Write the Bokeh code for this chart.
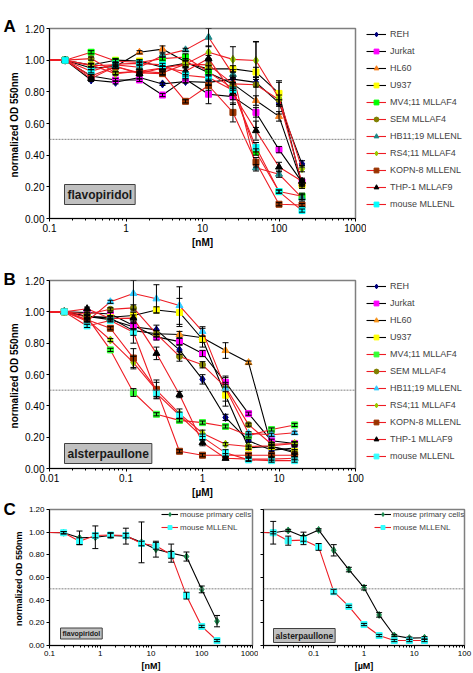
from bokeh.plotting import figure
from bokeh.layouts import column, row
from bokeh.models import (ColumnDataSource, Whisker, Span, Label, Legend, LegendItem,
                          FixedTicker, TeeHead, Range1d, NumeralTickFormatter)
from bokeh.embed import file_html
from bokeh.resources import INLINE

FONT = "Liberation Sans"

# ---------------- data ----------------
names = ["REH", "Jurkat", "HL60", "U937", "MV4;11 MLLAF4", "SEM MLLAF4",
         "HB11;19 MLLENL", "RS4;11 MLLAF4", "KOPN-8 MLLENL", "THP-1 MLLAF9", "mouse MLLENL"]

# Panel A: flavopiridol [nM] (first value = untreated control, left of axis)
a_dose = [0.05, 0.16, 0.35, 0.73, 1.5, 3, 6, 12, 25, 50, 100, 200]
a_reh = [1.00, 1.00, 0.875, 0.86, 0.89, 0.85, 0.865, 0.86, 0.88, 0.86, 0.73, 0.345]
a_jurkat = [1.00, 1.00, 0.90, 0.875, 0.875, 0.78, 0.88, 0.785, 0.77, 0.67, 0.435, 0.23]
a_hl60 = [1.00, 1.00, 0.95, 0.96, 1.05, 1.07, 0.99, 0.92, 0.85, 0.745, 0.645, 0.22]
a_u937 = [1.00, 1.00, 0.97, 1.00, 0.995, 0.955, 0.98, 0.945, 0.945, 0.925, 0.79, 0.21]
a_mv411 = [1.00, 1.00, 1.05, 0.995, 0.985, 1.01, 1.02, 0.925, 0.82, 0.42, 0.17, 0.14]
a_sem = [1.00, 1.00, 1.01, 0.92, 0.93, 0.92, 0.975, 0.97, 0.85, 0.845, 0.75, 0.225]
a_hb1119 = [1.00, 1.00, 0.965, 0.97, 0.955, 1.03, 1.065, 1.145, 0.91, 0.32, 0.28, 0.13]
a_rs411 = [1.00, 1.00, 0.97, 0.915, 0.93, 0.95, 0.975, 1.05, 1.005, 0.998, 0.76, 0.315]
a_kopn8 = [1.00, 1.00, 0.90, 0.96, 0.92, 0.915, 0.74, 0.84, 0.67, 0.355, 0.09, 0.085]
a_thp1 = [1.00, 1.00, 0.885, 0.96, 0.915, 0.95, 0.93, 1.01, 0.79, 0.555, 0.325, 0.235]
a_mouse = [1.00, 1.00, 0.93, 0.975, 0.98, 0.97, 0.905, 0.89, 0.81, 0.45, 0.17, 0.05]

a_reh_err = [0, 0, 0.01, 0.01, 0.01, 0.01, 0.01, 0.02, 0.02, 0.03, 0.02, 0.02]
a_jurkat_err = [0, 0, 0.01, 0.01, 0.01, 0.01, 0.02, 0.06, 0.02, 0.03, 0.02, 0.02]
a_hl60_err = [0, 0, 0.01, 0.01, 0.01, 0.02, 0.02, 0.02, 0.03, 0.03, 0.03, 0.02]
a_u937_err = [0, 0, 0.01, 0.01, 0.01, 0.01, 0.02, 0.02, 0.02, 0.03, 0.08, 0.02]
a_mv411_err = [0, 0, 0.01, 0.01, 0.01, 0.01, 0.02, 0.02, 0.03, 0.02, 0.01, 0.02]
a_sem_err = [0, 0, 0.01, 0.01, 0.01, 0.01, 0.02, 0.03, 0.04, 0.27, 0.03, 0.02]
a_hb1119_err = [0, 0, 0.01, 0.01, 0.01, 0.01, 0.01, 0.06, 0.03, 0.02, 0.02, 0.02]
a_rs411_err = [0, 0, 0.01, 0.01, 0.01, 0.01, 0.02, 0.04, 0.08, 0.12, 0.10, 0.02]
a_kopn8_err = [0, 0, 0.01, 0.01, 0.01, 0.01, 0.01, 0.03, 0.06, 0.03, 0.01, 0.01]
a_thp1_err = [0, 0, 0.01, 0.01, 0.01, 0.01, 0.02, 0.02, 0.07, 0.06, 0.03, 0.02]
a_mouse_err = [0, 0, 0.01, 0.01, 0.01, 0.01, 0.02, 0.02, 0.02, 0.03, 0.01, 0.01]

# Panel B: alsterpaullone [uM]
b_dose = [0.005, 0.0156, 0.031, 0.0625, 0.125, 0.25, 0.5, 1, 2, 4, 8, 16]
b_reh = [1, 1, 0.97, 0.95, 0.905, 0.885, 0.757, 0.569, 0.326, 0.177, 0.117, 0.13]
b_jurkat = [1, 1, 0.996, 0.986, 0.913, 0.84, 0.81, 0.734, 0.55, 0.35, 0.177, 0.16]
b_hl60 = [1, 1, 0.97, 0.96, 0.88, 0.86, 0.855, 0.835, 0.753, 0.676, 0.14, 0.10]
b_u937 = [1, 1, 0.97, 0.965, 0.977, 1.012, 0.996, 0.825, 0.468, 0.132, 0.14, 0.11]
b_mv411 = [1, 1, 0.965, 0.757, 0.485, 0.346, 0.307, 0.293, 0.268, 0.21, 0.249, 0.278]
b_sem = [1, 1, 0.985, 1.016, 1.025, 0.86, 0.715, 0.662, 0.52, 0.28, 0.155, 0.16]
b_hb1119 = [1, 1, 0.94, 1.064, 1.117, 1.083, 1.04, 0.875, 0.51, 0.225, 0.215, 0.228]
b_rs411 = [1, 1, 0.95, 0.82, 0.676, 0.50, 0.35, 0.225, 0.155, 0.14, 0.145, 0.16]
b_kopn8 = [1, 1, 0.95, 0.895, 0.705, 0.505, 0.11, 0.085, 0.085, 0.085, 0.085, 0.085]
b_thp1 = [1, 1, 1.02, 0.957, 0.96, 0.735, 0.472, 0.165, 0.065, 0.06, 0.06, 0.065]
b_mouse = [1, 1, 0.91, 0.945, 0.87, 0.48, 0.34, 0.20, 0.10, 0.055, 0.05, 0.05]

b_reh_err = [0, 0, 0.01, 0.01, 0.02, 0.03, 0.03, 0.03, 0.02, 0.01, 0.01, 0.01]
b_jurkat_err = [0, 0, 0.01, 0.01, 0.02, 0.02, 0.02, 0.02, 0.03, 0.01, 0.01, 0.01]
b_hl60_err = [0, 0, 0.01, 0.01, 0.08, 0.02, 0.02, 0.06, 0.05, 0.01, 0.01, 0.01]
b_u937_err = [0, 0, 0.01, 0.01, 0.02, 0.02, 0.09, 0.02, 0.07, 0.01, 0.01, 0.01]
b_mv411_err = [0, 0, 0.01, 0.01, 0.025, 0.01, 0.01, 0.01, 0.01, 0.01, 0.01, 0.01]
b_sem_err = [0, 0, 0.01, 0.01, 0.02, 0.02, 0.03, 0.02, 0.03, 0.01, 0.01, 0.01]
b_hb1119_err = [0, 0, 0.01, 0.01, 0.10, 0.09, 0.12, 0.03, 0.08, 0.01, 0.01, 0.01]
b_rs411_err = [0, 0, 0.01, 0.01, 0.04, 0.05, 0.03, 0.02, 0.01, 0.01, 0.01, 0.01]
b_kopn8_err = [0, 0, 0.01, 0.01, 0.06, 0.06, 0.01, 0.01, 0.01, 0.01, 0.01, 0.01]
b_thp1_err = [0, 0, 0.01, 0.01, 0.02, 0.04, 0.02, 0.02, 0.01, 0.01, 0.01, 0.01]
b_mouse_err = [0, 0, 0.01, 0.01, 0.02, 0.02, 0.02, 0.02, 0.02, 0.01, 0.01, 0.01]

# Panel C
c_names = ["mouse primary cells", "mouse MLLENL"]
c1_dose = [0.05, 0.19, 0.39, 0.8, 1.6, 3.2, 6.5, 12.5, 25, 50, 100, 200]
c1_primary = [1, 0.995, 0.95, 0.955, 0.97, 0.965, 0.91, 0.85, 0.815, 0.785, 0.495, 0.215]
c1_primary_err = [0, 0.01, 0.06, 0.10, 0.02, 0.07, 0.18, 0.07, 0.08, 0.04, 0.03, 0.05]
c1_mouse = [1, 0.995, 0.92, 0.97, 0.975, 0.97, 0.90, 0.88, 0.80, 0.44, 0.168, 0.044]
c1_mouse_err = [0, 0.01, 0.03, 0.02, 0.02, 0.02, 0.02, 0.03, 0.03, 0.03, 0.01, 0.01]

c2_dose = [0.005, 0.0156, 0.031, 0.0625, 0.125, 0.25, 0.5, 1, 2, 4, 8, 16]
c2_primary = [1, 0.995, 1.015, 0.96, 1.02, 0.84, 0.67, 0.51, 0.27, 0.088, 0.065, 0.068]
c2_primary_err = [0, 0.10, 0.01, 0.04, 0.01, 0.05, 0.02, 0.02, 0.02, 0.01, 0.01, 0.01]
c2_mouse = [1, 0.995, 0.925, 0.93, 0.87, 0.475, 0.345, 0.185, 0.088, 0.044, 0.044, 0.044]
c2_mouse_err = [0, 0.01, 0.04, 0.04, 0.03, 0.02, 0.01, 0.01, 0.01, 0.01, 0.01, 0.01]

y_ticks = [0.0, 0.2, 0.4, 0.6, 0.8, 1.0, 1.2]
a_xticks = [0.1, 1, 10, 100, 1000]
a_xtick_labels = ["0.1", "1", "10", "100", "1000"]
b_xticks = [0.01, 0.1, 1, 10, 100]
b_xtick_labels = ["0.01", "0.1", "1", "10", "100"]
c2_xtick_labels = ["", "0.1", "1", "10", "100"]

a_values = [a_reh, a_jurkat, a_hl60, a_u937, a_mv411, a_sem, a_hb1119, a_rs411, a_kopn8, a_thp1, a_mouse]
a_errors = [a_reh_err, a_jurkat_err, a_hl60_err, a_u937_err, a_mv411_err, a_sem_err,
            a_hb1119_err, a_rs411_err, a_kopn8_err, a_thp1_err, a_mouse_err]
b_values = [b_reh, b_jurkat, b_hl60, b_u937, b_mv411, b_sem, b_hb1119, b_rs411, b_kopn8, b_thp1, b_mouse]
b_errors = [b_reh_err, b_jurkat_err, b_hl60_err, b_u937_err, b_mv411_err, b_sem_err,
            b_hb1119_err, b_rs411_err, b_kopn8_err, b_thp1_err, b_mouse_err]

# ---------------- styles ----------------
RED = "#ee1c24"
line_colors = ["#000000"] * 4 + [RED] * 7
markers = ["diamond", "square", "triangle", "square", "square", "circle",
           "triangle", "diamond", "square", "triangle", "square"]
a_colors = ["#000080", "#ff00ff", "#f7801e", "#ffff00", "#00ff00", "#808000",
            "#1f8a8a", "#99cc00", "#993300", "#000000", "#00ffff"]
b_colors = ["#000080", "#ff00ff", "#f7941d", "#ffff00", "#33ff33", "#808000",
            "#33ccff", "#99cc00", "#993300", "#000000", "#33ffff"]
sizes = [8, 6, 7, 6, 6, 6, 7, 8, 6, 7, 6]


def base_fig(width, height, xr, xticks, xlabels, bl, br, bt, bb, tick_size, label_size,
             xlabel, ylabel, letter, letter_standoff):
    p = figure(width=width, height=height, x_axis_type="log",
               x_range=Range1d(*xr), y_range=Range1d(0, 1.2),
               output_backend="svg", toolbar_location=None,
               min_border_left=bl, min_border_right=br, min_border_top=bt, min_border_bottom=bb)
    # panel letter as the figure title, pulled to the left edge
    p.title.text = letter or ""
    p.title.align = "left"
    p.title.offset = -46
    p.title.standoff = letter_standoff
    p.title.text_font = FONT
    p.title.text_font_size = "17px"
    p.title.text_font_style = "bold"
    p.title.text_color = "black"
    p.xgrid.visible = False
    p.ygrid.visible = False
    p.outline_line_color = "#7f7f7f"
    p.outline_line_width = 1.5
    for ax in (p.xaxis[0], p.yaxis[0]):
        ax.axis_line_color = "black"
        ax.major_tick_line_color = "black"
        ax.minor_tick_line_color = "black"
        ax.major_label_text_font = FONT
        ax.major_label_text_font_size = tick_size
        ax.major_label_text_color = "black"
        ax.axis_label_text_font = FONT
        ax.axis_label_text_font_size = label_size
        ax.axis_label_text_font_style = "bold"
        ax.axis_label_text_color = "black"
        ax.major_tick_in = 0
        ax.major_tick_out = 3
        ax.minor_tick_in = 0
        ax.minor_tick_out = 2
        ax.major_label_standoff = 2
        ax.axis_label_standoff = 2
    minor = [m * k for m in xticks[:-1] for k in range(2, 10)]
    p.xaxis[0].ticker = FixedTicker(ticks=xticks, minor_ticks=minor)
    p.xaxis[0].major_label_overrides = {t: l for t, l in zip(xticks, xlabels)}
    p.xaxis[0].axis_label = xlabel
    p.yaxis[0].ticker = FixedTicker(ticks=y_ticks)
    p.yaxis[0].formatter = NumeralTickFormatter(format="0.00")
    p.yaxis[0].minor_tick_line_color = None
    if ylabel:
        p.yaxis[0].axis_label = ylabel
    p.add_layout(Span(location=0.5, dimension="width", line_color="#808080",
                      line_width=1, line_dash="2 1"))
    return p


def draw_series(p, dose, vals, errs, lcolor, marker, color, size):
    xs = [d for d, e in zip(dose, errs) if e > 0]
    up = [min(v + e, 1.2) for v, e in zip(vals, errs) if e > 0]
    lo = [v - e for v, e in zip(vals, errs) if e > 0]
    w = Whisker(source=ColumnDataSource(dict(base=xs, upper=up, lower=lo)),
                base="base", upper="upper", lower="lower", dimension="height",
                line_color="black", line_width=1, level="glyph",
                upper_head=TeeHead(size=6, line_color="black", line_width=1),
                lower_head=TeeHead(size=6, line_color="black", line_width=1))
    p.add_layout(w)
    src = ColumnDataSource(dict(x=dose, y=vals))
    lr = p.line("x", "y", source=src, line_color=lcolor, line_width=1.1)
    sr = p.scatter("x", "y", source=src, marker=marker, size=size,
                   fill_color=color, line_color=color)
    return lr, sr


def drug_box(p, text, x, y, size, pad):
    p.add_layout(Label(x=x, y=y, x_units="screen", y_units="screen", text=text,
                       text_font=FONT, text_font_size=size, text_font_style="bold",
                       text_color="#1a1a1a", text_baseline="middle",
                       background_fill_color="#c0c0c0", border_line_color="#404040",
                       border_line_width=1, padding=pad))


def legend_fig(height, top, dose, values, colors):
    # frameless companion figure carrying the legend; its view window lies away from the
    # data, so only the legend entries are visible
    q = figure(width=107, height=height, x_range=Range1d(-2, -1), y_range=Range1d(-2, -1),
               x_axis_location=None, y_axis_location=None, toolbar_location=None,
               output_backend="svg", min_border_left=0, min_border_right=0,
               min_border_top=top, min_border_bottom=0, outline_line_color=None)
    q.xgrid.visible = False
    q.ygrid.visible = False
    items = []
    for i in range(len(names)):
        src = ColumnDataSource(dict(x=dose, y=values[i]))
        lr = q.line("x", "y", source=src, line_color=line_colors[i], line_width=1.1)
        sr = q.scatter("x", "y", source=src, marker=markers[i], size=sizes[i],
                       fill_color=colors[i], line_color=colors[i])
        items.append(LegendItem(label=names[i], renderers=[lr, sr]))
    leg = Legend(items=items, location="top_left", padding=0, margin=0,
                 glyph_width=20, glyph_height=12, label_height=12, spacing=5,
                 label_standoff=4, label_text_font=FONT, label_text_font_size="9px",
                 border_line_alpha=0, background_fill_alpha=0)
    q.add_layout(leg)
    return q


def big_panel(height, xr, xticks, xlabels, bt, bb, xlabel, dose, values, errors, colors,
              letter, letter_standoff, drug, drug_y):
    p = base_fig(366, height, xr, xticks, xlabels, 49, 11, bt, bb, "10px", "10px",
                 xlabel, "normalized  OD 550nm", letter, letter_standoff)
    for i in range(len(names)):
        draw_series(p, dose, values[i], errors[i], line_colors[i], markers[i],
                    colors[i], sizes[i])
    drug_box(p, drug, 15, drug_y, "12px", 3)
    return p


pA = big_panel(253, (0.1, 1000), a_xticks, a_xtick_labels, 11, 35, "[nM]",
               a_dose, a_values, a_errors, a_colors, "A", -15, "flavopiridol", 24)
legA = legend_fig(253, 28, a_dose, a_values, a_colors)
pB = big_panel(247, (0.01, 100), b_xticks, b_xtick_labels, 10, 31, "[\u00b5M]",
               b_dose, b_values, b_errors, b_colors, "B", -17, "alsterpaullone", 15)
legB = legend_fig(247, 27, b_dose, b_values, b_colors)


def small_panel(width, xr, xticks, xlabels, bl, br, xlabel, ylabel, dose, prim, prim_err,
                mouse, mouse_err, leg_x, drug, drug_x, drug_y, drug_size, letter):
    p = base_fig(width, 173, xr, xticks, xlabels, bl, br, 9, 28, "8px", "9px", xlabel, ylabel,
                 letter, -19)
    l1, s1 = draw_series(p, dose, prim, prim_err, "#000000", "diamond", "#1e8c50", 7)
    l2, s2 = draw_series(p, dose, mouse, mouse_err, RED, "square", "#33ffff", 6)
    leg = Legend(items=[LegendItem(label=c_names[0], renderers=[l1, s1]),
                        LegendItem(label=c_names[1], renderers=[l2, s2])],
                 location=(leg_x, 113), padding=0, margin=0,
                 glyph_width=17, glyph_height=10, label_height=10, spacing=3,
                 label_standoff=2, label_text_font=FONT, label_text_font_size="8px",
                 border_line_alpha=0, background_fill_alpha=0)
    p.add_layout(leg)
    drug_box(p, drug, drug_x, drug_y, drug_size, 2)
    if not ylabel:
        p.yaxis[0].major_label_overrides = {t: "" for t in y_ticks}
        p.yaxis[0].major_label_standoff = 0
    return p


pC1 = small_panel(258, (0.1, 1000), a_xticks, a_xtick_labels, 49, 6, "[nM]",
                  "normalized  OD 550nm", c1_dose, c1_primary, c1_primary_err,
                  c1_mouse, c1_mouse_err, 112, "flavopiridol", 11, 12, "7px", "C")
pC2 = small_panel(215, (0.01, 100), b_xticks, c2_xtick_labels, 5, 9, "[\u00b5M]",
                  None, c2_dose, c2_primary, c2_primary_err,
                  c2_mouse, c2_mouse_err, 111, "alsterpaullone", 10, 10, "8.5px", None)

layout = column(row(pA, legA), row(pB, legB), row(pC1, pC2))
open("out.html", "w").write(file_html(layout, INLINE))
